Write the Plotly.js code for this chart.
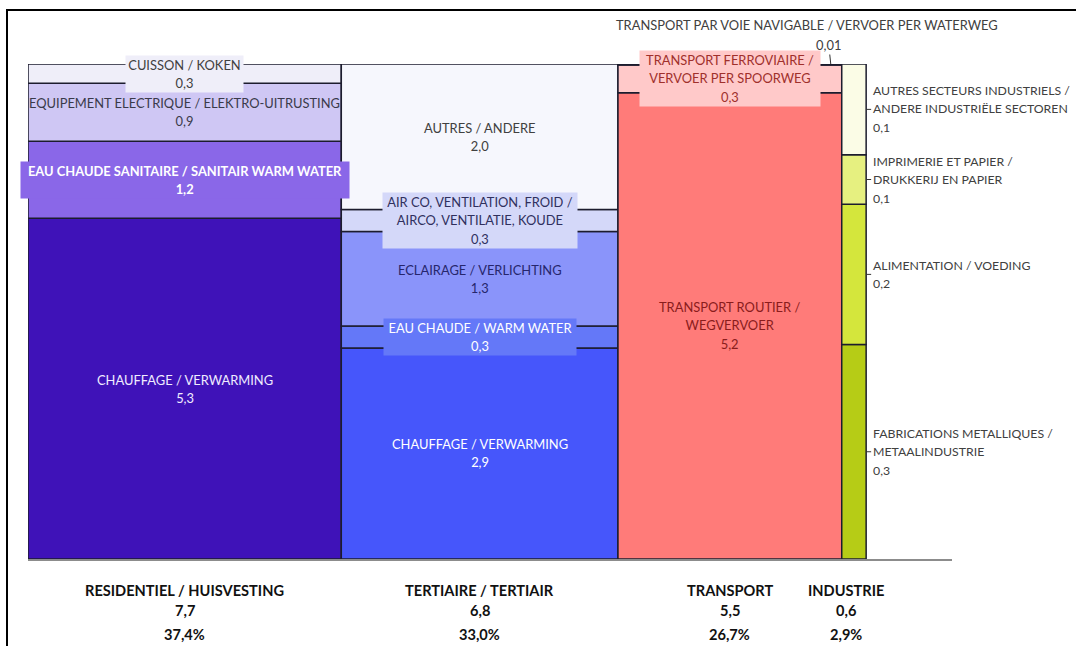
<!DOCTYPE html>
<html><head><meta charset="utf-8">
<script src="https://cdn.plot.ly/plotly-3.0.1.min.js"></script>
<style>html,body{margin:0;padding:0;background:#fff}#chart{width:1076px;height:646px}</style>
</head><body><div id="chart"></div>
<script>
// ---- data ----
const sectorNames = ["RESIDENTIEL / HUISVESTING", "TERTIAIRE / TERTIAIR", "TRANSPORT", "INDUSTRIE"];
const sectorTotals = [7.7, 6.8, 5.5, 0.6];

const resNames = ["CHAUFFAGE / VERWARMING", "EAU CHAUDE SANITAIRE / SANITAIR WARM WATER", "EQUIPEMENT ELECTRIQUE / ELEKTRO-UITRUSTING", "CUISSON / KOKEN"];
const resValues = [5.3, 1.2, 0.9, 0.3];

const tertNames = ["CHAUFFAGE / VERWARMING", "EAU CHAUDE / WARM WATER", "ECLAIRAGE / VERLICHTING", "AIR CO, VENTILATION, FROID /<br>AIRCO, VENTILATIE, KOUDE", "AUTRES / ANDERE"];
const tertValues = [2.9, 0.3, 1.3, 0.3, 2.0];

const transNames = ["TRANSPORT ROUTIER /<br>WEGVERVOER", "TRANSPORT FERROVIAIRE /<br>VERVOER PER SPOORWEG", "TRANSPORT PAR VOIE NAVIGABLE / VERVOER PER WATERWEG"];
const transValues = [5.18, 0.31, 0.01];

const indNames = ["FABRICATIONS METALLIQUES /<br>METAALINDUSTRIE", "ALIMENTATION / VOEDING", "IMPRIMERIE ET PAPIER /<br>DRUKKERIJ EN PAPIER", "AUTRES SECTEURS INDUSTRIELS /<br>ANDERE INDUSTRIËLE SECTOREN"];
const indValues = [0.26, 0.17, 0.06, 0.11];

// ---- styles ----
const resColors = ["#3F12B8", "#8A67E8", "#CFC7F4", "#EFEEF9"];
const tertColors = ["#4656FB", "#6478F8", "#8A94FA", "#D4D8F9", "#F6F7FD"];
const transColors = ["#FF7B79", "#FFC9C9", "#FFC9C9"];
const indColors = ["#B6CC16", "#D4E63C", "#E6F080", "#FBFCE6"];

const resStyle = [{c:"#F0ECFF"}, {c:"#FFFFFF", b:true, box:326}, {c:"#3A3A4A"}, {c:"#404040", box:115}];
const tertStyle = [{c:"#FFFFFF"}, {c:"#FFFFFF", box:190}, {c:"#26266C"}, {c:"#30305E", box:192}, {c:"#404040"}];
const transStyle = [{c:"#8A1C1C"}, {c:"#A0302C", box:178}, null];

const FONT = "Lato, 'Open Sans', sans-serif";
const FS = 14.2;        // controls line spacing
const GLYPH = "12.9px"; // actual glyph size
const GLYPH_SIDE = "12.3px";

function fmt(v){ return (v < 0.05 ? v.toFixed(2) : v.toFixed(1)).replace('.', ','); }
function small(t, bold, size){
  return t.split('<br>').map(l => '<span style="font-size:' + (size || GLYPH) + '">' + (bold ? '<b>' + l + '</b>' : l) + '</span>').join('<br>');
}

const columns = [
  {names: resNames, values: resValues, colors: resColors, style: resStyle},
  {names: tertNames, values: tertValues, colors: tertColors, style: tertStyle},
  {names: transNames, values: transValues, colors: transColors, style: transStyle},
  {names: indNames, values: indValues, colors: indColors, style: null}
];

const grand = sectorTotals.reduce((a,b)=>a+b,0);
const traces = [];
const annotations = [];
let x0 = 0;
const PLOT_TOP = 64, PLOT_H = 495;
function paperY(px){ return (PLOT_TOP + PLOT_H - px) / PLOT_H; }

columns.forEach((col, i) => {
  const w = sectorTotals[i];
  const center = x0 + w/2;
  const right = x0 + w;
  const sum = col.values.reduce((a,b)=>a+b,0);
  let acc = 0;
  const bases = [], shares = [];
  col.values.forEach(v => { bases.push(acc/sum); shares.push(v/sum); acc += v; });
  traces.push({
    type: 'bar', x: col.values.map(()=>center), y: shares, base: bases,
    width: col.values.map(()=>w),
    marker: {color: col.colors, line: {color: '#1C1C2E', width: 1.5}},
    hoverinfo: 'skip', showlegend: false
  });

  col.values.forEach((v, s) => {
    const mid = bases[s] + shares[s]/2;
    const label = col.names[s] + '<br>' + fmt(v);
    if (i === 3) {
      annotations.push({
        x: right, y: mid, xref: 'x', yref: 'y', text: small(label, false, GLYPH_SIDE),
        showarrow: true, arrowhead: 0, arrowwidth: 1, arrowcolor: '#333',
        ax: 5, ay: 0, xanchor: 'left', yanchor: 'middle', align: 'left',
        font: {family: FONT, size: FS, color: '#404040'}
      });
      return;
    }
    const st = col.style[s];
    if (st === null) {
      annotations.push({
        x: right, y: 1, xref: 'x', yref: 'y', xshift: -35, yshift: 39,
        text: small(col.names[s]), showarrow: false,
        font: {family: FONT, size: FS, color: '#404040'}
      });
      annotations.push({
        x: right - 0.27, y: 1, xref: 'x', yref: 'y', text: small(fmt(v)),
        showarrow: true, arrowhead: 0, arrowwidth: 1, arrowcolor: '#333',
        ax: -2, ay: -19,
        font: {family: FONT, size: FS, color: '#404040'}
      });
      return;
    }
    const a = {
      x: center, y: mid, xref: 'x', yref: 'y',
      text: small(label, st.b),
      showarrow: false, align: 'center',
      font: {family: FONT, size: FS, color: st.c}
    };
    if (st.box) { a.bgcolor = col.colors[s]; a.width = st.box; a.borderpad = 1; }
    annotations.push(a);
  });

  const shift = i === 3 ? -8 : 0;
  const pct = (w / grand * 100).toFixed(1).replace('.', ',') + '%';
  [[sectorNames[i], 590], [fmt(w), 610], [pct, 634]].forEach(([t, py]) => {
    annotations.push({
      x: center, y: paperY(py), xref: 'x', yref: 'paper', xshift: shift,
      text: '<b>' + t + '</b>', showarrow: false, yanchor: 'middle',
      font: {family: FONT, size: 14.6, color: '#111'}
    });
  });
  x0 += w;
});

const layout = {
  width: 1076, height: 646,
  margin: {l: 28, r: 124, t: PLOT_TOP, b: 646 - PLOT_TOP - PLOT_H, pad: 0},
  paper_bgcolor: '#fff', plot_bgcolor: '#fff',
  barmode: 'overlay', bargap: 0,
  xaxis: {range: [0, 22.71], showgrid: false, zeroline: false, showticklabels: false,
          ticks: '', showline: true, linecolor: '#8C8C8C', linewidth: 2, fixedrange: true},
  yaxis: {range: [0, 1], visible: false, fixedrange: true},
  annotations: annotations,
  shapes: [{
    type: 'rect', xref: 'paper', yref: 'paper',
    x0: (7 - 28) / 924, x1: 1.3, y0: -0.4, y1: paperY(10),
    line: {color: '#000', width: 2}, fillcolor: 'rgba(0,0,0,0)', layer: 'above'
  }],
  showlegend: false,
  font: {family: FONT}
};

Plotly.newPlot('chart', traces, layout, {displayModeBar: false, staticPlot: true});
</script>
</body></html>
